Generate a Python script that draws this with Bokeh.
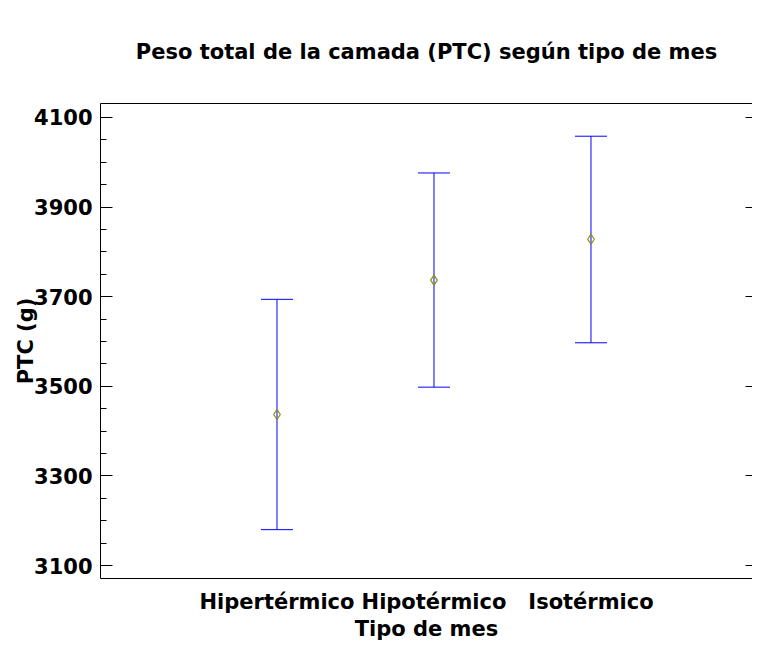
from bokeh.plotting import figure
from bokeh.models import (ColumnDataSource, Whisker, TeeHead, FixedTicker, LinearAxis,
                          Range1d, Title)
from bokeh.embed import file_html
from bokeh.resources import INLINE

# ---- data ----
categories = ["Hipertérmico", "Hipotérmico", "Isotérmico"]
positions = [1, 2, 3]
means = [3437, 3737, 3828]
lower = [3180, 3498, 3597]
upper = [3694, 3976, 4058]
y_ticks = [3100, 3300, 3500, 3700, 3900, 4100]
y_minor = [3100 + 50 * i for i in range(21) if (50 * i) % 200 != 0]

title_text = "Peso total de la camada (PTC) según tipo de mes"
x_label = "Tipo de mes"
y_label = "PTC (g)"

FONT = "DejaVu Sans"

src = ColumnDataSource(dict(x=positions, mean=means, lower=lower, upper=upper))

p = figure(width=752, height=643, output_backend="svg", toolbar_location=None,
           x_range=Range1d(-0.1242, 4.0288), y_range=Range1d(3071, 4131),
           min_border_left=100, min_border_right=0, min_border_top=103, min_border_bottom=65,
           outline_line_color=None, background_fill_color="white")

p.title = Title(text=title_text, align="center", vertical_align="top", text_font=FONT,
                text_font_size="21px", text_font_style="bold", text_color="black", standoff=76)

p.xgrid.visible = False
p.ygrid.visible = False

# x axis
xa = p.xaxis[0]
xa.ticker = FixedTicker(ticks=positions)
xa.major_label_overrides = {pos: c for pos, c in zip(positions, categories)}
xa.major_tick_in = 0
xa.major_tick_out = 0
xa.minor_tick_in = 0
xa.minor_tick_out = 0
xa.axis_label = x_label
xa.axis_label_text_font = FONT
xa.axis_label_text_font_size = "21px"
xa.axis_label_text_font_style = "bold"
xa.axis_label_text_color = "black"
xa.axis_label_standoff = 0
xa.major_label_text_font = FONT
xa.major_label_text_font_size = "21px"
xa.major_label_text_font_style = "bold"
xa.major_label_text_color = "black"
xa.major_label_standoff = 11
xa.axis_line_color = "black"

# left y axis
ya = p.yaxis[0]
ya.ticker = FixedTicker(ticks=y_ticks, minor_ticks=y_minor)
ya.major_tick_in = 12
ya.major_tick_out = 0
ya.minor_tick_in = 6
ya.minor_tick_out = 0
ya.major_label_standoff = 8
ya.major_label_text_font = FONT
ya.major_label_text_font_size = "21px"
ya.major_label_text_font_style = "bold"
ya.major_label_text_color = "black"
ya.axis_label = y_label
ya.axis_label_text_font = FONT
ya.axis_label_text_font_size = "21px"
ya.axis_label_text_font_style = "bold"
ya.axis_label_text_color = "black"
ya.axis_label_standoff = -7
ya.axis_line_color = "black"

# right axis (ticks only)
ra = LinearAxis(ticker=FixedTicker(ticks=y_ticks), major_tick_in=7, major_tick_out=0,
                minor_tick_in=0, minor_tick_out=0, major_label_text_font_size="0px",
                major_label_text_color=None, major_label_standoff=0, axis_line_color=None)
p.add_layout(ra, "right")

# top frame line
ta = LinearAxis(ticker=FixedTicker(ticks=[]), major_tick_in=0, major_tick_out=0,
                minor_tick_in=0, minor_tick_out=0, major_label_text_font_size="0px",
                major_label_text_color=None, major_label_standoff=0, axis_line_color="black")
p.add_layout(ta, "above")

w = Whisker(source=src, base="x", upper="upper", lower="lower", dimension="height",
            line_color="#0000ff", line_width=1,
            upper_head=TeeHead(size=32, line_color="#0000ff", line_width=1),
            lower_head=TeeHead(size=32, line_color="#0000ff", line_width=1))
p.add_layout(w)

p.scatter("x", "mean", source=src, marker="diamond", size=10, fill_color=None,
          line_color="#8c8c00", line_width=1.2)

open("out.html", "w").write(file_html(p, INLINE))
